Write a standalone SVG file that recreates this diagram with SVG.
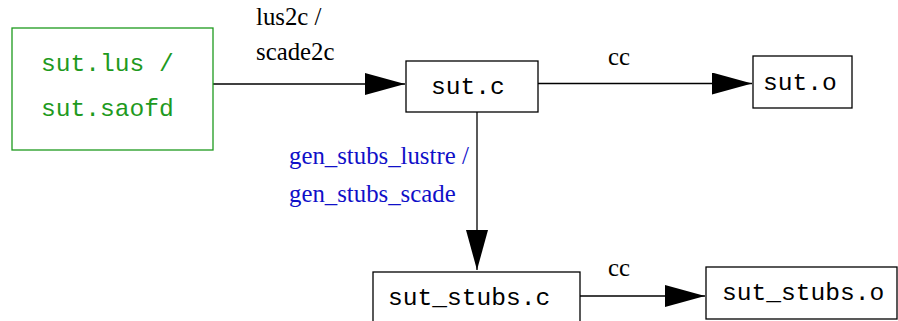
<svg xmlns="http://www.w3.org/2000/svg" width="898" height="321" viewBox="0 0 898 321">
<style>
.box{fill:#fff;stroke:#000;stroke-width:1.3}
.gbox{fill:#fff;stroke:#1e9a1e;stroke-width:1.3}
.mono{font-family:"Liberation Mono","Courier New",monospace;font-size:24.6px;fill:#000}
.gmono{font-family:"Liberation Mono","Courier New",monospace;font-size:24.6px;fill:#1e9a1e}
.lbl{font-family:"Liberation Serif","Times New Roman",serif;font-size:24.8px;fill:#000}
.blbl{font-family:"Liberation Serif","Times New Roman",serif;font-size:24.8px;fill:#1010c8}
.edge{fill:none;stroke:#000;stroke-width:1.3}
</style>
<defs>
<marker id="ah" markerUnits="userSpaceOnUse" markerWidth="41" markerHeight="22" refX="40" refY="11" orient="auto">
<path d="M0,0 L40,11 L0,22 Z" fill="#000"/>
</marker>
</defs>
<g id="connectors">
<path class="edge" d="M213,84 L405,84" marker-end="url(#ah)"/>
<path class="edge" d="M538,83.5 L752,83.5" marker-end="url(#ah)"/>
<path class="edge" d="M477,112 L477,270" marker-end="url(#ah)"/>
<path class="edge" d="M580,296 L705,296" marker-end="url(#ah)"/>
<text class="lbl" x="256" y="25">lus2c /</text>
<text class="lbl" x="256" y="60">scade2c</text>
<text class="lbl" x="608" y="65">cc</text>
<text class="blbl" x="289" y="164">gen_stubs_lustre /</text>
<text class="blbl" x="289" y="202">gen_stubs_scade</text>
<text class="lbl" x="608" y="276">cc</text>
</g>
<g id="sut_lus">
<rect class="gbox" x="12" y="28" width="201" height="122"/>
<text class="gmono" x="41" y="71">sut.lus /</text>
<text class="gmono" x="41" y="116">sut.saofd</text>
</g>
<g id="sut_c">
<rect class="box" x="406" y="61" width="132" height="51"/>
<text class="mono" x="431" y="94">sut.c</text>
</g>
<g id="sut_o">
<rect class="box" x="753" y="56" width="99" height="52"/>
<text class="mono" x="763" y="90">sut.o</text>
</g>
<g id="sut_stubs_c">
<rect class="box" x="373" y="272" width="207" height="52"/>
<text class="mono" x="388" y="305">sut_stubs.c</text>
</g>
<g id="sut_stubs_o">
<rect class="box" x="706" y="267" width="191" height="52"/>
<text class="mono" x="722" y="300">sut_stubs.o</text>
</g>
</svg>
